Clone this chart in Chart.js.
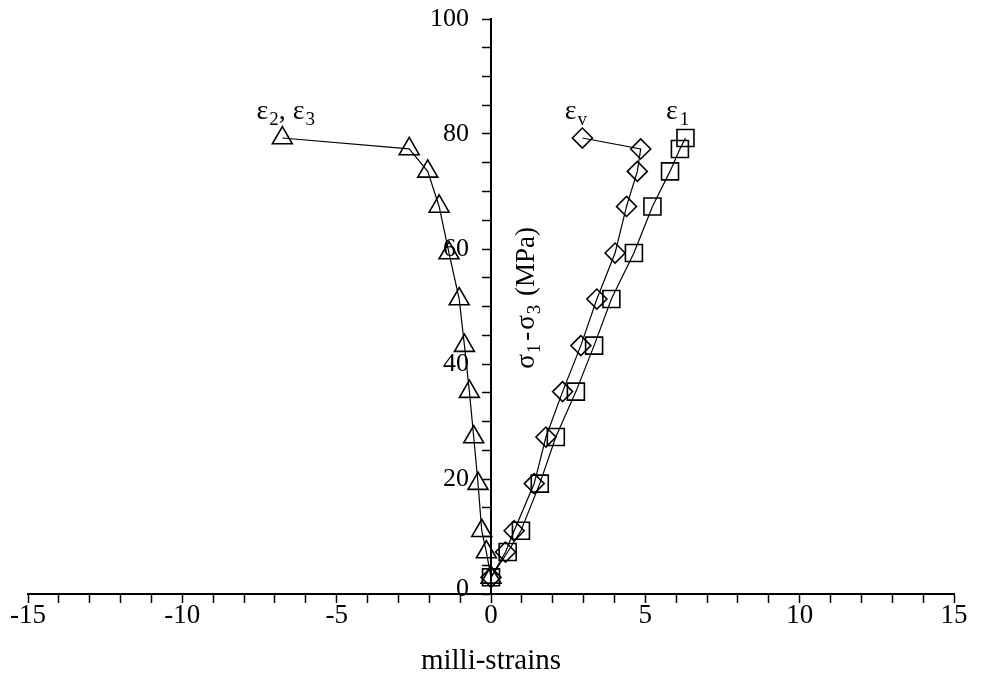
<!DOCTYPE html>
<html><head><meta charset="utf-8">
<script src="https://cdn.jsdelivr.net/npm/chart.js@4/dist/chart.umd.min.js"></script>
<style>html,body{margin:0;padding:0;background:#fff}#wrap{width:985px;height:693px;position:relative}</style>
</head><body><div id="wrap"><canvas id="c"></canvas></div>
<script>
// deviatoric stress levels (MPa), shared by the three strain curves
const stress = [2.9, 7.3, 11, 19.2, 27.3, 35.2, 43.2, 51.3, 59.3, 67.4, 73.5, 77.4, 79.3];
// lateral strains eps2 = eps3 (milli-strains)
const strainLateral = [0, -0.15, -0.3, -0.42, -0.56, -0.7, -0.86, -1.03, -1.36, -1.68, -2.05, -2.65, -6.76];
// volumetric strain eps_v
const strainVolumetric = [0, 0.47, 0.75, 1.4, 1.78, 2.32, 2.91, 3.43, 4.02, 4.39, 4.74, 4.85, 2.96];
// axial strain eps1
const strainAxial = [0, 0.54, 0.97, 1.58, 2.1, 2.75, 3.34, 3.9, 4.63, 5.23, 5.8, 6.12, 6.3];
const xTickLabels = [-15, -10, -5, 0, 5, 10, 15];
const yTickLabels = [0, 20, 40, 60, 80, 100];
const seriesNames = ['ε2, ε3', 'εv', 'ε1'];
// label anchor points (data coordinates)
const labelAnchors = [[-6.65, 84.3], [2.75, 84.3], [6.05, 84.3]];

const FONT = '"Liberation Serif", "Times New Roman", serif';
function pts(xs) { return xs.map((x, i) => ({x: x, y: stress[i]})); }

const common = {borderColor: '#000', borderWidth: 1.2, pointBorderColor: '#000', pointBackgroundColor: 'rgba(0,0,0,0)', pointBorderWidth: 1.6, showLine: true, tension: 0};

const annot = {
  id: 'annot',
  afterDraw(chart) {
    const ctx = chart.ctx, xs = chart.scales.x, ys = chart.scales.y;
    const x0 = xs.getPixelForValue(0);
    ctx.save();
    ctx.fillStyle = '#000';
    // y tick labels
    ctx.font = '26px ' + FONT;
    ctx.textAlign = 'right'; ctx.textBaseline = 'middle';
    yTickLabels.forEach(v => { ctx.fillText(String(v), x0 - 22, ys.getPixelForValue(v) - (v === 0 ? 5 : 0)); });
    // x title
    ctx.font = '29px ' + FONT;
    ctx.textAlign = 'center'; ctx.textBaseline = 'middle';
    ctx.fillText('milli-strains', (chart.chartArea.left + chart.chartArea.right) / 2, 661);
    // y title rotated, with subscripts
    ctx.save();
    ctx.translate(x0 + 34, ys.getPixelForValue(51.5));
    ctx.rotate(-Math.PI / 2);
    const parts = [['σ', 0, 1], ['1', 1, 3], ['-', 0, 2], ['σ', 0, 1], ['3', 1, 2], [' (MPa)', 0, 0]];
    drawRich(ctx, parts, 0, 0, 'center', 27, 19);
    ctx.restore();
    // series labels
    seriesNames.forEach((name, i) => {
      const px = xs.getPixelForValue(labelAnchors[i][0]);
      const py = ys.getPixelForValue(labelAnchors[i][1]);
      let parts;
      if (i === 0) parts = [['ε', 0, 1], ['2', 1, 0], [', ', 0, 0], ['ε', 0, 1], ['3', 1, 0]];
      else if (i === 1) parts = [['ε', 0, 1], ['v', 1, 0]];
      else parts = [['ε', 0, 2], ['1', 1, 0]];
      drawRich(ctx, parts, px, py, 'center', 28, 19);
    });
    ctx.restore();
  }
};
function drawRich(ctx, parts, x, y, align, big, small) {
  let w = 0;
  parts.forEach(p => { ctx.font = (p[1] ? small : big) + 'px ' + FONT; w += ctx.measureText(p[0]).width + p[2]; });
  let cx = align === 'center' ? x - w / 2 : x;
  ctx.textAlign = 'left'; ctx.textBaseline = 'alphabetic';
  parts.forEach(p => {
    ctx.font = (p[1] ? small : big) + 'px ' + FONT;
    ctx.fillText(p[0], cx, y + big * 0.35 + (p[1] ? big * 0.2 : 0));
    cx += ctx.measureText(p[0]).width + p[2];
  });
}

new Chart(document.getElementById('c'), {
  type: 'scatter',
  data: {datasets: [
    Object.assign({label: seriesNames[0], data: pts(strainLateral), pointStyle: 'triangle', pointRadius: 11.5, pointHoverRadius: 11.5}, common),
    Object.assign({label: seriesNames[1], data: pts(strainVolumetric), pointStyle: 'rectRot', pointRadius: 10, pointHoverRadius: 10}, common),
    Object.assign({label: seriesNames[2], data: pts(strainAxial), pointStyle: 'rect', pointRadius: 12, pointHoverRadius: 12}, common)
  ]},
  options: {
    responsive: true, maintainAspectRatio: false, animation: false,
    layout: {padding: {left: 28, right: 31, top: 19, bottom: 99}},
    plugins: {legend: {display: false}, tooltip: {enabled: false}},
    scales: {
      x: {
        type: 'linear', min: -15, max: 15, position: {y: 0},
        border: {color: '#000', width: 2},
        grid: {drawOnChartArea: false, drawTicks: true, tickLength: 8, tickWidth: 1.5, tickColor: '#000'},
        ticks: {stepSize: 1, autoSkip: false, maxRotation: 0, padding: 0, color: '#000',
          font: {family: FONT, size: 27, lineHeight: 1},
          callback: v => xTickLabels.includes(v) ? String(v) : ''}
      },
      y: {
        type: 'linear', min: 0, max: 100, position: {x: 0},
        border: {color: '#000', width: 2},
        grid: {drawOnChartArea: false, drawTicks: true, tickLength: 8, tickWidth: 1.5, tickColor: '#000'},
        ticks: {stepSize: 5, autoSkip: false, display: false}
      }
    }
  },
  plugins: [annot]
});
</script></body></html>
